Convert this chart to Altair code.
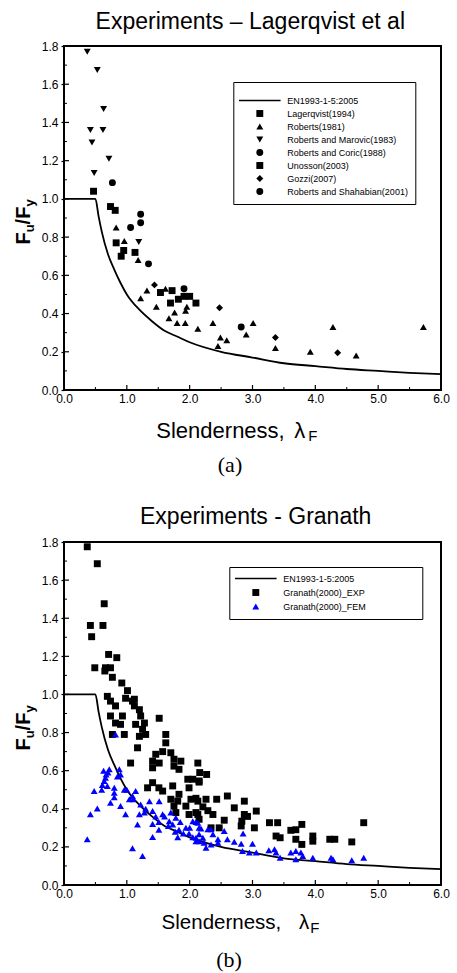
import altair as alt
import pandas as pd

SANS = "Liberation Sans"
SERIF = "Liberation Serif"

# ---------------- panel (a) data ----------------
lag_x = [0.47, 0.74, 0.815, 0.83, 0.95, 0.91, 1.13]
lag_y = [1.04, 0.96, 0.94, 0.77, 0.73, 0.70, 0.72]
rob81_x = [0.83, 0.96, 1.18, 1.32, 1.22, 1.615, 1.47, 1.955, 1.935, 1.76, 1.67, 1.80, 1.93,
           2.13, 2.37, 3.01, 2.90, 2.49, 2.59, 2.45, 3.365, 4.28, 5.72, 3.92, 4.65]
rob81_y = [0.85, 0.78, 0.68, 0.52, 0.48, 0.53, 0.435, 0.435, 0.415, 0.405, 0.375, 0.35, 0.35,
           0.32, 0.35, 0.35, 0.29, 0.275, 0.26, 0.23, 0.22, 0.33, 0.33, 0.20, 0.18]
marovic_x = [0.37, 0.53, 0.63, 0.42, 0.62, 0.445, 0.715, 0.48, 1.19]
marovic_y = [1.77, 1.675, 1.47, 1.36, 1.36, 1.295, 1.21, 1.135, 0.775]
coric_x = [0.77, 1.22, 1.22, 1.06, 1.345]
coric_y = [1.085, 0.92, 0.875, 0.85, 0.66]
unosson_x = [1.535, 1.72, 1.91, 2.0, 1.82, 2.10, 1.695]
unosson_y = [0.51, 0.52, 0.49, 0.49, 0.475, 0.455, 0.455]
gozzi_x = [1.44, 2.475, 3.365, 4.355]
gozzi_y = [0.55, 0.43, 0.275, 0.195]
shahab_x = [1.91, 2.82]
shahab_y = [0.53, 0.33]

names_a = ["EN1993-1-5:2005", "Lagerqvist(1994)", "Roberts(1981)", "Roberts and Marovic(1983)",
           "Roberts and Coric(1988)", "Unosson(2003)", "Gozzi(2007)", "Roberts and Shahabian(2001)"]

# ---------------- panel (b) data ----------------
exp_x = [0.37, 0.53, 0.64, 0.42, 0.62, 0.44, 0.71, 0.84, 0.49, 0.66, 0.74, 0.65, 0.77, 0.92, 1.01,
         0.69, 0.98, 1.12, 0.74, 1.09, 1.12, 0.82, 1.20, 0.74, 0.93, 1.22, 0.82, 0.90, 1.14, 1.28,
         1.515, 1.25, 0.77, 0.96, 1.20, 1.30, 1.62, 1.17, 1.62, 1.57, 1.70, 1.46, 1.41, 1.515, 1.75,
         1.06, 1.41, 1.75, 1.83, 2.13, 1.86, 1.97, 2.15, 1.41, 1.33, 1.51, 1.57, 1.73, 1.99, 1.83,
         1.70, 1.81, 2.02, 1.75, 1.94, 2.13, 2.10, 1.78, 1.99, 2.16, 2.27, 2.15, 2.05, 2.60, 2.87,
         2.10, 2.26, 2.43, 2.21, 2.29, 2.71, 3.06, 2.87, 2.92, 2.13, 2.37, 2.55, 2.83, 3.27, 3.40,
         2.15, 3.785, 4.77, 2.82, 3.03, 2.47, 2.34, 3.61, 3.69, 3.375, 3.44, 3.96, 3.96, 4.23, 4.31,
         3.69, 4.58, 3.785]
exp_y = [1.775, 1.686, 1.476, 1.362, 1.362, 1.303, 1.21, 1.193, 1.14, 1.14, 1.14, 1.123, 1.09, 1.06, 1.02,
         0.99, 0.98, 0.975, 0.965, 0.965, 0.94, 0.94, 0.92, 0.887, 0.887, 0.887, 0.85, 0.843, 0.843, 0.85,
         0.875, 0.817, 0.79, 0.79, 0.78, 0.79, 0.79, 0.72, 0.746, 0.70, 0.694, 0.686, 0.65, 0.64, 0.66,
         0.64, 0.615, 0.624, 0.607, 0.64, 0.65, 0.555, 0.546, 0.537, 0.51, 0.51, 0.493, 0.52, 0.51, 0.476,
         0.45, 0.44, 0.45, 0.414, 0.414, 0.44, 0.38, 0.38, 0.37, 0.59, 0.58, 0.54, 0.555, 0.467, 0.44,
         0.455, 0.45, 0.45, 0.41, 0.39, 0.405, 0.388, 0.37, 0.36, 0.37, 0.37, 0.34, 0.335, 0.327, 0.327,
         0.345, 0.318, 0.327, 0.31, 0.30, 0.30, 0.30, 0.287, 0.29, 0.257, 0.248, 0.257, 0.23, 0.24, 0.24,
         0.24, 0.226, 0.213]
fem_x = [0.82, 0.72, 0.70, 0.88, 0.90, 0.85, 0.66, 0.64, 0.61, 0.69, 0.80, 0.96, 0.48, 0.80, 0.80,
         1.14, 1.09, 1.04, 0.74, 0.90, 0.53, 0.42, 0.98, 1.22, 1.36, 1.515, 1.20, 1.28, 1.41, 1.46,
         1.57, 1.41, 1.51, 1.17, 1.675, 1.73, 1.78, 1.83, 1.94, 1.99, 1.81, 1.51, 1.41, 0.37, 1.09,
         1.25, 2.05, 2.10, 2.15, 2.10, 2.15, 1.66, 1.77, 2.13, 2.18, 2.29, 2.34, 2.15, 2.21, 2.10,
         2.23, 2.26, 2.37, 2.34, 2.45, 2.45, 2.55, 2.60, 2.71, 2.82, 3.00, 2.85, 2.84, 2.95, 3.06,
         3.26, 3.35, 3.375, 3.44, 3.61, 3.69, 3.77, 3.69, 3.80, 3.96, 4.25, 4.28, 4.58, 4.77,
         0.63, 0.67, 0.60, 1.00, 1.10, 1.30, 1.60, 1.70, 1.85, 1.90, 2.00, 2.05]
fem_y = [0.79, 0.607, 0.59, 0.607, 0.58, 0.57, 0.563, 0.546, 0.525, 0.52, 0.51, 0.50, 0.493, 0.484, 0.46,
         0.493, 0.467, 0.45, 0.432, 0.414, 0.402, 0.371, 0.371, 0.423, 0.44, 0.44, 0.371, 0.38, 0.388, 0.36,
         0.371, 0.32, 0.33, 0.318, 0.335, 0.318, 0.353, 0.29, 0.30, 0.27, 0.25, 0.29, 0.252, 0.24, 0.193,
         0.152, 0.335, 0.33, 0.30, 0.248, 0.23, 0.31, 0.28, 0.327, 0.297, 0.292, 0.292, 0.266, 0.248, 0.23,
         0.222, 0.196, 0.266, 0.213, 0.222, 0.24, 0.283, 0.24, 0.227, 0.217, 0.217, 0.27, 0.178, 0.17, 0.17,
         0.182, 0.187, 0.17, 0.143, 0.17, 0.178, 0.17, 0.135, 0.152, 0.143, 0.143, 0.135, 0.13, 0.143,
         0.60, 0.58, 0.50, 0.50, 0.45, 0.40, 0.36, 0.38, 0.33, 0.27, 0.30, 0.25]

names_b = ["EN1993-1-5:2005", "Granath(2000)_EXP", "Granath(2000)_FEM"]

# ---------------- EN1993-1-5:2005 design curve ----------------
curve_x = [0.0, 0.5, 0.55, 0.6, 0.7, 0.8, 0.9, 1.0, 1.2, 1.4, 1.6, 1.8, 2.0, 2.5, 3.0, 3.5,
           4.0, 4.5, 5.0, 5.5, 6.0]
curve_y = [1.0, 1.0, 0.91, 0.83, 0.71, 0.63, 0.56, 0.5, 0.42, 0.36, 0.31, 0.28, 0.25, 0.2, 0.17,
           0.14, 0.125, 0.11, 0.1, 0.09, 0.083]

# ---------------- axis ticks / labels ----------------
x_major = [0, 1, 2, 3, 4, 5, 6]
x_minor = [0.5, 1.5, 2.5, 3.5, 4.5, 5.5]
y_major = [0.0, 0.2, 0.4, 0.6, 0.8, 1.0, 1.2, 1.4, 1.6, 1.8]
y_minor = [0.1, 0.3, 0.5, 0.7, 0.9, 1.1, 1.3, 1.5, 1.7]

LINE_SYM = "M-6,-0.22H6V0.22H-6Z"
W = 377

XSC = alt.Scale(domain=[0, 6], nice=False, zero=False)
YSC = alt.Scale(domain=[0, 1.8], nice=False, zero=False)
XAX = alt.Axis(values=x_major, format=".1f", title=None, ticks=False, domain=False, grid=False,
               labelFont=SANS, labelFontSize=12, labelColor="black", labelPadding=3,
               labelFlush=False)
YAX = alt.Axis(values=y_major, format=".1f", title=None, ticks=True, tickSize=3,
               tickColor="black", tickWidth=1.2, domain=False, grid=False,
               labelFont=SANS, labelFontSize=12, labelColor="black", labelPadding=3)


def series_df(pairs):
    rows = []
    for name, xs, ys in pairs:
        for a, b in zip(xs, ys):
            rows.append({"x": a, "y": b, "series": name})
    return pd.DataFrame(rows)


def txt(s, x, y, size, weight="normal", angle=0, font=SANS, align="left"):
    kw = dict(font=font, fontSize=size, fontWeight=weight, align=align,
              baseline="alphabetic", color="black")
    if angle:
        kw["angle"] = angle
    return alt.Chart(pd.DataFrame({"t": [s]})).mark_text(**kw).encode(
        text="t:N", x=alt.value(x), y=alt.value(y))


def panel(df, names, shapes, colors, leg, title, title_x, title_y, title_size,
          xt_pos, xt_size, ytitle_c, caption, cap_x, h, anchor=False):
    pts = alt.Chart(df).mark_point(filled=True, size=48, opacity=1).encode(
        x=alt.X("x:Q", scale=XSC, axis=XAX),
        y=alt.Y("y:Q", scale=YSC, axis=YAX),
        shape=alt.Shape("series:N", scale=alt.Scale(domain=names, range=shapes), legend=leg),
        color=alt.Color("series:N", scale=alt.Scale(domain=names, range=colors), legend=leg),
    )
    curve = alt.Chart(pd.DataFrame({"x": curve_x, "y": curve_y})).mark_line(
        color="black", strokeWidth=1.8, interpolate="monotone").encode(
        x=alt.X("x:Q", scale=XSC, axis=XAX), y=alt.Y("y:Q", scale=YSC, axis=YAX))
    xt1 = alt.Chart(pd.DataFrame({"x": x_major})).mark_rule(color="black", strokeWidth=1.2).encode(
        x=alt.X("x:Q", scale=XSC, axis=XAX), y=alt.value(h), y2=alt.value(h - 5))
    xt2 = alt.Chart(pd.DataFrame({"x": x_minor})).mark_rule(color="black", strokeWidth=1).encode(
        x=alt.X("x:Q", scale=XSC, axis=XAX), y=alt.value(h), y2=alt.value(h - 3))
    yt1 = alt.Chart(pd.DataFrame({"y": y_major})).mark_rule(color="black", strokeWidth=1.2).encode(
        y=alt.Y("y:Q", scale=YSC, axis=YAX), x=alt.value(0), x2=alt.value(5))
    yt2 = alt.Chart(pd.DataFrame({"y": y_minor})).mark_rule(color="black", strokeWidth=1).encode(
        y=alt.Y("y:Q", scale=YSC, axis=YAX), x=alt.value(0), x2=alt.value(3))
    t_title = txt(title, title_x, title_y, title_size, align="center")
    xs, xl, xf, xb = xt_pos
    t_x1 = txt("Slenderness,", xs, h + xb, xt_size)
    t_x2 = txt("λ", xl, h + xb, xt_size)
    t_x3 = txt("F", xf, h + xb + 3.5, 15)
    y0 = ytitle_c + 22.5
    t_y1 = txt("F", -33.7, y0, 20, "bold", 270)
    t_y2 = txt("u", -29.7, y0 - 12.2, 13, "bold", 270)
    t_y3 = txt("/F", -33.7, y0 - 20.1, 20, "bold", 270)
    t_y4 = txt("y", -29.7, y0 - 37.9, 13, "bold", 270)
    t_cap = txt(caption, cap_x, h + 82, 22, font=SERIF, align="center")
    layers = [curve, xt1, xt2, yt1, yt2, pts, t_title, t_x1, t_x2, t_x3,
              t_y1, t_y2, t_y3, t_y4, t_cap]
    if anchor:
        layers.append(alt.Chart(pd.DataFrame({"t": [0]})).mark_rule(opacity=0, strokeWidth=1).encode(
            x=alt.value(-62.2), x2=alt.value(-60), y=alt.value(-44.5)))
    return alt.layer(*layers).properties(width=W, height=h)


PAD = "\u2800" * 7
common_leg = dict(orient="none", padding=7, strokeColor="black", fillColor="white",
                  symbolOffset=15, labelOffset=23, labelFont=SANS, labelFontSize=9,
                  labelColor="black", symbolSize=48, symbolStrokeWidth=0, labelLimit=400)
leg_a = alt.Legend(legendX=169.3, legendY=36, title=" ", titleFontSize=5, titlePadding=2,
                   rowPadding=3, **common_leg)
leg_b = alt.Legend(legendX=165.3, legendY=25, title=None, rowPadding=4,
                   labelExpr="datum.label + '" + PAD + "'", **common_leg)

df_a = series_df([
    ("Lagerqvist(1994)", lag_x, lag_y),
    ("Roberts(1981)", rob81_x, rob81_y),
    ("Roberts and Marovic(1983)", marovic_x, marovic_y),
    ("Roberts and Coric(1988)", coric_x, coric_y),
    ("Unosson(2003)", unosson_x, unosson_y),
    ("Gozzi(2007)", gozzi_x, gozzi_y),
    ("Roberts and Shahabian(2001)", shahab_x, shahab_y),
])
df_b = series_df([
    ("Granath(2000)_EXP", exp_x, exp_y),
    ("Granath(2000)_FEM", fem_x, fem_y),
])

pa = panel(df_a, names_a,
           [LINE_SYM, "square", "triangle-up", "triangle-down", "circle", "square", "diamond", "circle"],
           ["black"] * 8, leg_a,
           "Experiments – Lagerqvist et al", 186.3, -16.7, 23,
           (92.3, 230.3, 244.3, 47.5), 22, 176, "(a)", 166, 344, anchor=True)
pb = panel(df_b, names_b,
           [LINE_SYM, "square", "triangle-up"],
           ["black", "black", "#0000ff"], leg_b,
           "Experiments - Granath", 191.7, -17.7, 23,
           (97.6, 235, 246.3, 44.3), 20.5, 186, "(b)", 165, 343)

chart = alt.vconcat(pa, pb, spacing=152, bounds="flush").resolve_scale(
    shape="independent", color="independent").resolve_legend(
    shape="independent", color="independent").properties(padding=0).configure_view(
    stroke="black", strokeWidth=2).configure_legend(strokeWidth=1)

chart.save("out.html", embed_options={"renderer": "svg", "actions": False})
